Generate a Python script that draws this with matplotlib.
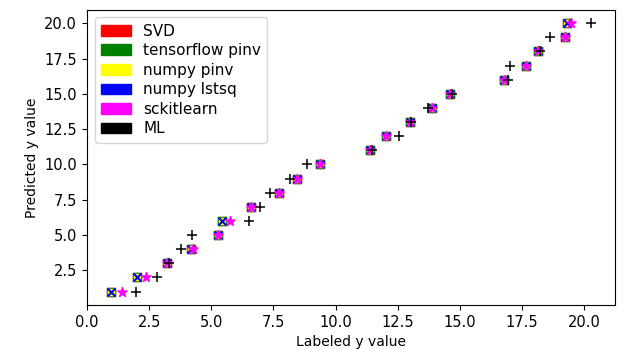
import matplotlib
matplotlib.use("Agg")
import matplotlib.pyplot as plt
import matplotlib.patches as mpatches

# labeled y (x axis) vs predicted y (y axis)
predicted = [1, 2, 3, 4, 5, 6, 7, 8, 9, 10,
             11, 12, 13, 14, 15, 16, 17, 18, 19, 20]

# labeled values for the closed-form / library solvers (they overlap)
labeled_solvers = [0.96, 2.02, 3.2, 4.2, 5.27, 5.41, 6.61, 7.71, 8.46, 9.38,
                   11.4, 12.03, 13.0, 13.88, 14.58, 16.76, 17.66, 18.15, 19.22, 19.29]
labeled_sklearn = [1.42, 2.37, 3.2, 4.25, 5.27, 5.74, 6.61, 7.71, 8.46, 9.38,
                   11.4, 12.03, 13.0, 13.88, 14.58, 16.76, 17.66, 18.15, 19.22, 19.46]
labeled_ml = [1.97, 2.8, 3.3, 3.8, 4.24, 6.5, 6.95, 7.35, 8.15, 8.86,
              11.45, 12.53, 13.05, 13.7, 14.68, 16.95, 17.02, 18.2, 18.63, 20.27]

names = ["SVD", "tensorflow pinv", "numpy pinv", "numpy lstsq", "sckitlearn", "ML"]
colors = ["red", "green", "yellow", "blue", "magenta", "black"]

plt.rcParams["font.size"] = 10.5

fig = plt.figure(figsize=(6.25, 3.49), dpi=100)
ax = fig.add_axes([0.139, 0.126, 0.845, 0.846])

ax.scatter(labeled_solvers, predicted, c=colors[0], marker="s", s=32)
ax.scatter(labeled_solvers, predicted, c=colors[1], marker="s", s=32)
ax.scatter(labeled_solvers, predicted, c=colors[2], marker="s", s=22)
ax.scatter(labeled_solvers, predicted, c=colors[3], marker="x", s=30)
ax.scatter(labeled_sklearn, predicted, c=colors[4], marker="*", s=50)
ax.scatter(labeled_ml, predicted, c=colors[5], marker="+", s=50, linewidths=1.1)

ax.set_xlabel("Labeled y value", fontsize=10)
ax.set_ylabel("Predicted y value", fontsize=10)

handles = [mpatches.Patch(color=c, label=n) for c, n in zip(colors, names)]
ax.legend(handles=handles, loc="upper left", fontsize=11, labelspacing=0.3)

fig.savefig("out.png", dpi=100)
